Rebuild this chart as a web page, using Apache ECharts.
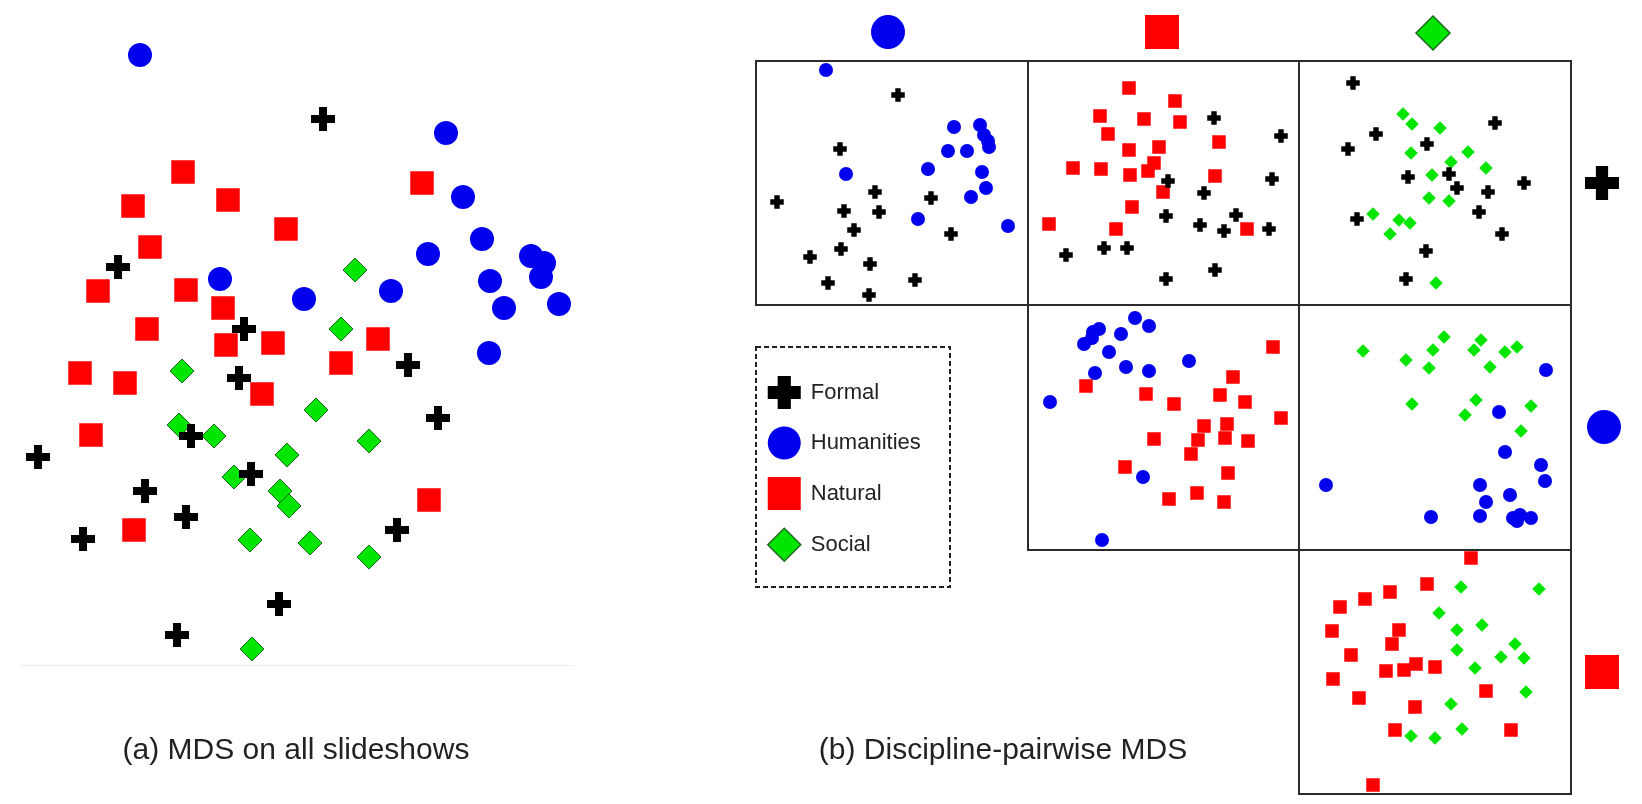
<!DOCTYPE html>
<html>
<head>
<meta charset="utf-8">
<script src="https://cdn.jsdelivr.net/npm/echarts@6.0.0/dist/echarts.min.js"></script>
<style>
html,body{margin:0;padding:0;background:#fff;}
#chart{width:1642px;height:804px;}
</style>
</head>
<body>
<div id="chart"></div>
<script>
// ---------------- DATA (panel-local units) ----------------
const disciplines = ['Formal', 'Humanities', 'Natural', 'Social'];
const captions = ['(a) MDS on all slideshows', '(b) Discipline-pairwise MDS'];

// (a) MDS on all slideshows
const allHumanities = [[119,610],[425,532],[442,468],[461,426],[407,411],[510,409],[523,402],[520,388],[469,384],[483,357],[538,361],[370,374],[283,366],[199,386],[468,312]];
const allNatural = [[162,493],[112,459],[207,465],[265,436],[401,482],[129,418],[77,374],[165,375],[202,357],[126,336],[205,320],[252,322],[357,326],[320,302],[59,292],[104,282],[241,271],[70,230],[408,165],[113,135]];
const allFormal = [[302,546],[97,398],[223,336],[387,300],[218,287],[417,247],[170,229],[17,208],[230,191],[124,174],[165,148],[62,126],[376,135],[258,61],[156,30]];
const allSocial = [[334,395],[320,336],[161,294],[295,255],[158,240],[193,229],[348,224],[266,210],[213,188],[259,174],[268,159],[229,125],[289,122],[348,108],[231,16]];

// (b) pairwise: Formal vs Humanities
const fhHumanities = [[70,235],[198,178],[224,180],[228,170],[232,164],[233,158],[192,154],[211,154],[90,131],[172,136],[226,133],[230,117],[215,108],[162,86],[252,79]];
const fhFormal = [[142,210],[84,156],[119,113],[21,103],[175,107],[88,94],[123,93],[98,75],[195,71],[85,56],[54,48],[114,41],[159,25],[72,22],[113,10]];
// Formal vs Natural
const fnNatural = [[101,217],[147,204],[72,189],[116,186],[152,183],[80,171],[191,163],[101,155],[131,158],[45,137],[73,136],[102,130],[126,142],[120,134],[187,129],[135,113],[104,98],[21,81],[88,76],[219,76]];
const fnFormal = [[186,187],[253,169],[244,126],[140,124],[176,112],[138,89],[208,90],[172,80],[196,74],[241,76],[38,50],[76,57],[99,57],[138,26],[187,35]];
// Formal vs Social
const fsFormal = [[54,222],[196,182],[77,171],[49,156],[128,161],[109,128],[150,131],[158,117],[189,113],[225,122],[180,93],[58,86],[203,71],[127,54],[107,26]];
const fsSocial = [[104,191],[113,181],[141,177],[112,152],[169,153],[152,143],[187,137],[133,130],[130,107],[150,104],[74,91],[100,85],[111,82],[91,71],[137,22]];
// Humanities vs Natural
const hnHumanities = [[107,232],[121,224],[71,221],[65,218],[93,216],[64,212],[56,206],[81,198],[161,189],[98,183],[121,179],[67,177],[22,148],[115,73],[74,10]];
const hnNatural = [[245,203],[205,173],[58,164],[118,156],[146,146],[192,155],[217,148],[253,132],[176,124],[199,126],[126,111],[170,110],[197,112],[220,109],[163,96],[97,83],[200,77],[169,57],[141,51],[196,48]];
// Humanities vs Social
const hsSocial = [[64,199],[107,190],[134,200],[145,213],[130,182],[175,200],[182,210],[206,198],[218,203],[191,183],[113,146],[177,150],[166,135],[232,144],[222,119]];
const hsHumanities = [[247,180],[200,138],[206,98],[242,85],[246,69],[27,65],[181,65],[211,55],[187,48],[132,33],[181,34],[214,32],[221,35],[218,29],[232,32]];
// Natural vs Social
const nsNatural = [[172,236],[128,210],[91,202],[66,195],[41,187],[33,163],[100,164],[93,150],[52,139],[87,123],[105,124],[117,130],[136,127],[34,115],[60,96],[187,103],[116,87],[96,64],[212,64],[74,9]];
const nsSocial = [[162,207],[240,205],[140,181],[158,164],[183,169],[216,150],[158,144],[202,137],[225,136],[176,126],[227,102],[152,90],[163,65],[112,58],[136,56]];

// ---------------- STYLE / LAYOUT ----------------
const PLUS = 'path://M3,0H6V3H9V6H6V9H3V6H0V3H3Z';
const PLUS_BOLD = 'path://M3,0H7V3H10V7H7V10H3V7H0V3H3Z';
const FONT = '"Liberation Sans", Arial, Helvetica, sans-serif';
const LOOK = {
  Formal:     {symbol: PLUS,      color: '#000000'},
  Humanities: {symbol: 'circle',  color: '#0000ee'},
  Natural:    {symbol: 'rect',    color: '#ff0000'},
  Social:     {symbol: 'diamond', color: '#00e600', border: '#1c6b1c'}
};
const SIZE_A = {Formal: 24, Humanities: 24, Natural: 23.5, Social: 24};
const SIZE_B = {Formal: 13.5, Humanities: 14, Natural: 13.5, Social: 13.5};

// grids: [left, top, width, height]
const GRIDS = [
  [21, 30, 553, 635],     // (a)
  [756, 61, 272, 244],    // Formal x Humanities
  [1028, 61, 271, 244],   // Formal x Natural
  [1299, 61, 272, 244],   // Formal x Social
  [1028, 305, 271, 245],  // Humanities x Natural
  [1299, 305, 272, 245],  // Humanities x Social
  [1299, 550, 272, 244]   // Natural x Social
];

const panels = [
  [0, [['Social', allSocial], ['Natural', allNatural], ['Humanities', allHumanities], ['Formal', allFormal]]],
  [1, [['Humanities', fhHumanities], ['Formal', fhFormal]]],
  [2, [['Natural', fnNatural], ['Formal', fnFormal]]],
  [3, [['Social', fsSocial], ['Formal', fsFormal]]],
  [4, [['Natural', hnNatural], ['Humanities', hnHumanities]]],
  [5, [['Social', hsSocial], ['Humanities', hsHumanities]]],
  [6, [['Natural', nsNatural], ['Social', nsSocial]]]
];

const grid = GRIDS.map((g, i) => ({
  left: g[0], top: g[1], width: g[2], height: g[3],
  show: i > 0, borderColor: '#2b2b2b', borderWidth: 2, backgroundColor: 'transparent',
  containLabel: false
}));
const xAxis = GRIDS.map((g, i) => ({
  gridIndex: i, type: 'value', min: 0, max: g[2], show: true,
  axisLine: {show: i === 0, onZero: false, lineStyle: {color: '#f3ebdf', width: 1}},
  axisTick: {show: false}, axisLabel: {show: false}, splitLine: {show: false}
}));
const yAxis = GRIDS.map((g, i) => ({
  gridIndex: i, type: 'value', min: 0, max: g[3], show: false,
  axisLine: {show: false}, axisTick: {show: false}, axisLabel: {show: false}, splitLine: {show: false}
}));

const series = [];
panels.forEach(([gi, list]) => {
  list.forEach(([name, data]) => {
    const lk = LOOK[name];
    const size = gi === 0 ? SIZE_A[name] : SIZE_B[name];
    const symbol = (name === 'Formal' && gi > 0) ? PLUS_BOLD : lk.symbol;
    series.push({
      type: 'scatter', name: name, data: data,
      xAxisIndex: gi, yAxisIndex: gi,
      symbol: symbol, symbolSize: size,
      itemStyle: {color: lk.color, opacity: 1,
        borderColor: lk.border || lk.color,
        borderWidth: (lk.border && gi === 0) ? 1 : 0},
      clip: false, silent: true,
      emphasis: {disabled: true},
      z: name === 'Formal' ? 4 : 3
    });
  });
});

// header glyphs (column: Humanities, Natural, Social; row: Formal, Humanities, Natural)
function glyph(name, cx, cy, s) {
  const lk = LOOK[name], h = s / 2;
  if (name === 'Humanities') return {type: 'circle', shape: {cx, cy, r: h}, style: {fill: lk.color}};
  if (name === 'Natural') return {type: 'rect', shape: {x: cx - h, y: cy - h, width: s, height: s}, style: {fill: lk.color}};
  if (name === 'Social') return {type: 'polygon', shape: {points: [[cx, cy - h], [cx + h, cy], [cx, cy + h], [cx - h, cy]]}, style: {fill: lk.color, stroke: lk.border, lineWidth: 1.5}};
  const t = s * 0.18;
  return {type: 'polygon', shape: {points: [[cx - t, cy - h], [cx + t, cy - h], [cx + t, cy - t], [cx + h, cy - t], [cx + h, cy + t], [cx + t, cy + t], [cx + t, cy + h], [cx - t, cy + h], [cx - t, cy + t], [cx - h, cy + t], [cx - h, cy - t], [cx - t, cy - t]]}, style: {fill: lk.color}};
}
const HEADERS = [
  ['Humanities', 888, 32], ['Natural', 1162, 32], ['Social', 1433, 33],
  ['Formal', 1602, 183], ['Humanities', 1604, 427], ['Natural', 1602, 672]
];
const graphic = HEADERS.map(h => glyph(h[0], h[1], h[2], 34));
graphic.push({type: 'rect', shape: {x: 756, y: 347, width: 194, height: 240},
  style: {fill: 'none', stroke: '#222', lineWidth: 2, lineDash: [5, 3]}, z: 1});

const chart = echarts.init(document.getElementById('chart'), null, {renderer: 'canvas'});
chart.setOption({
  backgroundColor: '#ffffff',
  animation: false,
  title: [
    {text: captions[0], left: 296, top: 751, textAlign: 'center', textVerticalAlign: 'middle', padding: 0,
     textStyle: {fontSize: 30, fontWeight: 'normal', color: '#222', fontFamily: FONT}},
    {text: captions[1], left: 1003, top: 751, textAlign: 'center', textVerticalAlign: 'middle', padding: 0,
     textStyle: {fontSize: 30, fontWeight: 'normal', color: '#222', fontFamily: FONT}}
  ],
  legend: {
    orient: 'vertical', left: 767, top: 376, padding: 0,
    itemWidth: 33, itemHeight: 33, itemGap: 17.5,
    selectedMode: false,
    data: disciplines.map(n => ({name: n, icon: n === 'Formal' ? PLUS_BOLD : LOOK[n].symbol,
      itemStyle: {color: LOOK[n].color, borderColor: LOOK[n].border || LOOK[n].color, borderWidth: LOOK[n].border ? 1.5 : 0}})),
    textStyle: {fontSize: 22, color: '#222', fontFamily: FONT, padding: [0, 0, 0, 5]}
  },
  grid, xAxis, yAxis, series, graphic
});
</script>
</body>
</html>
